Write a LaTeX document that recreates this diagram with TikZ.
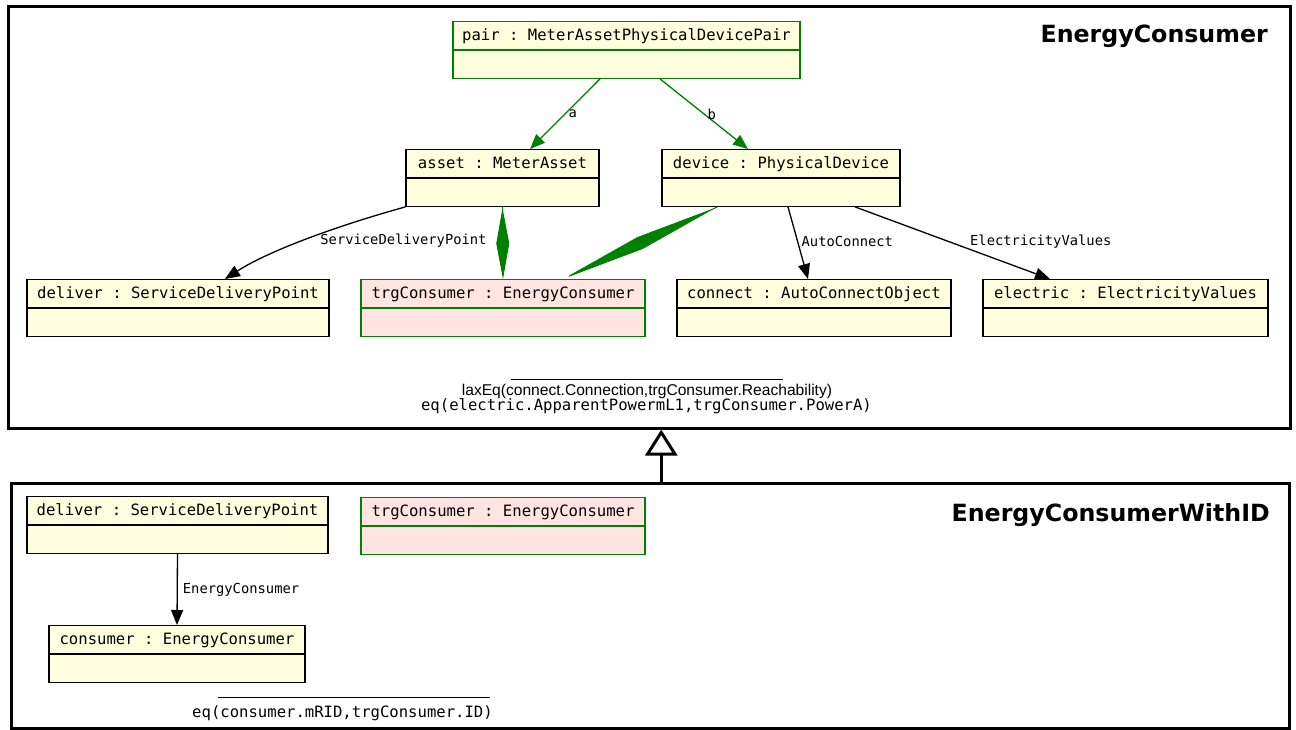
\documentclass[tikz,border=0pt]{standalone}
\usepackage{fontspec}
\setmainfont{DejaVu Sans}
\setmonofont{DejaVu Sans Mono}
\newfontfamily\arialfont{Liberation Sans}
\usetikzlibrary{arrows.meta, positioning, shapes.multipart}

\begin{document}
\begin{tikzpicture}[x=1pt, y=-1pt]
\definecolor{obj_color}{RGB}{255,255,221}
\definecolor{trg_color}{RGB}{255,228,225}
\definecolor{green_color}{RGB}{0,128,0}

\tikzset{
  obj/.style={rectangle split, rectangle split parts=2, draw=black, fill=obj_color,
    line width=1.3pt, anchor=north, font=\fontsize{15.6}{18}\selectfont\ttfamily,
    inner ysep=6pt, text height=12.5pt, text depth=2.5pt,
    rectangle split empty part height=11.5pt, rectangle split empty part depth=3.5pt},
  trgobj/.style={obj, draw=green_color, fill=trg_color},
  frame/.style={draw=black, line width=2.5pt, anchor=north west, inner sep=0pt},
  title/.style={font=\fontsize{23.7}{28}\selectfont\bfseries, anchor=east, inner sep=0pt},
  lbl/.style={font=\fontsize{13.8}{16}\selectfont\ttfamily, inner sep=3pt},
  cons/.style={font=\fontsize{15.6}{18}\selectfont\ttfamily, inner sep=0pt},
  assoc/.style={line width=1.3pt, -{Triangle[length=15pt, width=12pt]}},
  role/.style={assoc, draw=green_color, fill=green_color},
  comp/.style={draw=green_color, fill=green_color, line width=1pt, -{Diamond[length=#1, width=13pt]}},
  gen/.style={line width=3pt, -{Triangle[open, length=26pt, width=32pt, fill=white]}}
}
\useasboundingbox (0,0) rectangle (1296,729);

% pattern frames
\node[frame, minimum width=1282, minimum height=422] (ec) at (7,5) {};
\node[frame, minimum width=1278, minimum height=245] (ecid) at (10,482) {};
\node[title] (ectitle) at (1268,36) {EnergyConsumer};
\node[title] (ecidtitle) at (1270,515) {EnergyConsumerWithID};

% objects of EnergyConsumer
\node[obj, draw=green_color, minimum width=347] (pair) at (626.5,21) {pair : MeterAssetPhysicalDevicePair};
\node[obj, minimum width=193] (asset) at (502.5,149) {asset : MeterAsset};
\node[obj, minimum width=238] (device) at (781,149) {device : PhysicalDevice};
\node[obj, minimum width=302] (deliver) at (178,279) {deliver : ServiceDeliveryPoint};
\node[trgobj, minimum width=284] (trg) at (503,279) {trgConsumer : EnergyConsumer};
\node[obj, minimum width=274] (connect) at (814,279) {connect : AutoConnectObject};
\node[obj, minimum width=285] (electric) at (1125.5,279) {electric : ElectricityValues};

\draw[role] ([xshift=-26.5pt]pair.south) -- node[lbl, right] {a} ([xshift=27.5pt]asset.north);
\draw[role] ([xshift=33.5pt]pair.south) -- node[lbl, right] {b} ([xshift=-33pt]device.north);
\draw[assoc] (asset.south west) .. controls (340,225) and (270,250) .. node[lbl, pos=0.42, anchor=west, xshift=-6pt, yshift=-8pt] {ServiceDeliveryPoint} ([xshift=47pt]deliver.north);
\draw[comp=71pt] (asset.south) -- (trg.north);
\draw[comp=170pt] ([xshift=56pt]device.south west) -- ([xshift=60pt]trg.north);
\draw[assoc] ([xshift=7pt]device.south) -- node[lbl, right, yshift=1pt] {AutoConnect} ([xshift=-6pt]connect.north);
\draw[assoc] ([xshift=74pt]device.south) -- node[lbl, anchor=west, xshift=14pt, yshift=1pt] {ElectricityValues} ([xshift=-75.5pt]electric.north);

% constraints
\draw[line width=0.8pt] (511,379) -- (783,379);
\node[font=\fontsize{15.6}{18}\selectfont\arialfont, inner sep=0pt] (laxeq) at (647,391) {laxEq(connect.Connection,trgConsumer.Reachability)};
\node[cons] (eqpower) at (646.5,406) {eq(electric.ApparentPowermL1,trgConsumer.PowerA)};

% objects of EnergyConsumerWithID
\node[obj, minimum width=301] (deliverid) at (177.5,496) {deliver : ServiceDeliveryPoint};
\node[trgobj, minimum width=284] (trgid) at (503,497) {trgConsumer : EnergyConsumer};
\node[obj, minimum width=256] (consumer) at (177,625) {consumer : EnergyConsumer};

\draw[assoc] (deliverid.south) -- node[lbl, right, inner sep=5pt] {EnergyConsumer} (consumer.north);

\draw[line width=0.8pt] (218,697) -- (490,697);
\node[cons] (eqid) at (342.5,713) {eq(consumer.mRID,trgConsumer.ID)};

% generalization
\draw[gen] ([xshift=11pt]ecid.north) -- ([xshift=12pt]ec.south);

\end{tikzpicture}
\end{document}
